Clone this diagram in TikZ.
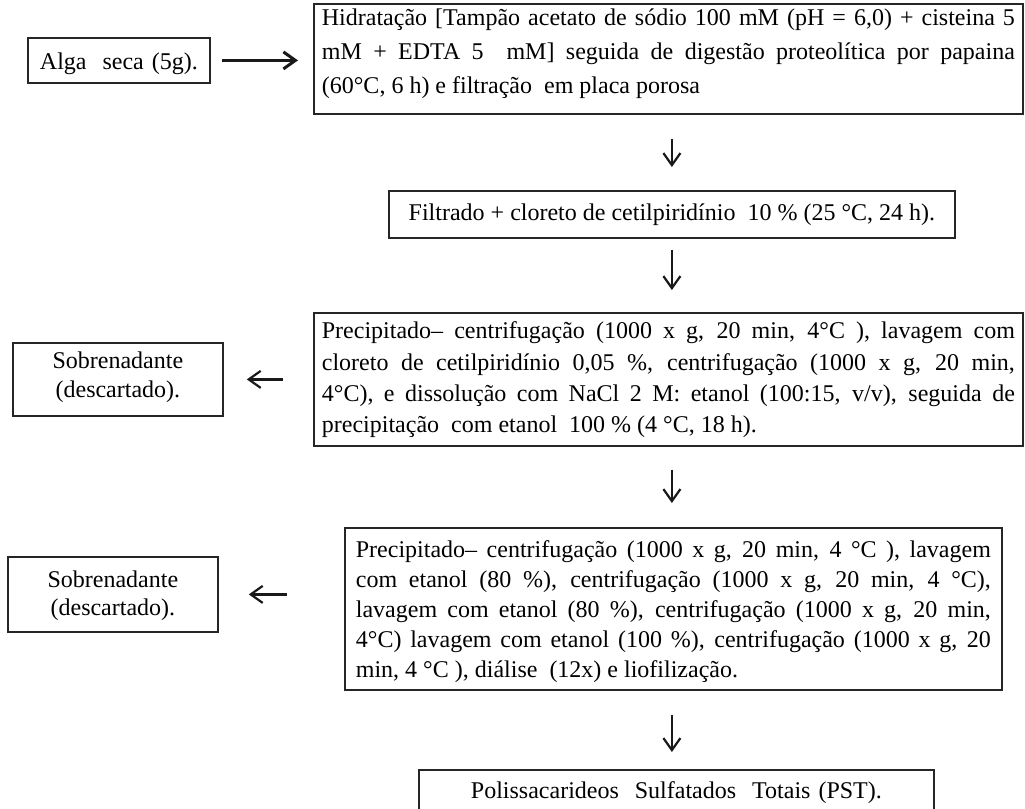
\documentclass[tikz,border=0pt]{standalone}
\usepackage{fontspec}
\setmainfont{Liberation Serif}
\usetikzlibrary{arrows.meta,positioning}

% struts that fix the gap above the first and below the last line
\newcommand{\boxtop}[1]{\noindent\rule{0pt}{#1}}
\newcommand{\boxbot}[1]{\rule[-#1]{0pt}{#1}}

\begin{document}
\begin{tikzpicture}[
    x=0.5pt, y=-0.5pt,
    box/.style={draw=black!85, line width=0.9pt, inner ysep=0pt, anchor=north west, font=\fontsize{12pt}{17pt}\selectfont},
    wide/.style={box, align=justify, inner xsep=4pt, text width=346.5pt},
    side/.style={box, align=center, inner xsep=0pt, text width=105pt},
    arrow/.style={-{Straight Barb[length=6pt,width=8.5pt]}, line width=1.1pt, black!90}
  ]
    \useasboundingbox (0,0) rectangle (1025,809);
    \clip (0,0) rectangle (1025,809);
    \node[box, align=center, inner xsep=0pt, text width=91pt] (alga) at (27,37) {\boxtop{16pt}Alga\ \ seca (5g).\boxbot{6.5pt}};
    \node[wide] (hidr) at (313,3) {\boxtop{11pt}Hidratação [Tampão acetato de sódio 100 mM (pH = 6,0) + cisteina 5\linebreak mM + EDTA 5\ \ mM] seguida de digestão proteolítica por papaina\linebreak (60°C, 6 h) e filtração\ \ em placa porosa\boxbot{10pt}};
    \node[box, inner xsep=0pt, minimum width=283pt] (filt) at (388,190) {\boxtop{15pt}Filtrado + cloreto de cetilpiridínio\ \ 10 \% (25 °C, 24 h).\boxbot{8.5pt}};
    \node[wide, font=\fontsize{12pt}{15.65pt}\selectfont] (prec1) at (313,312) {\boxtop{13pt}Precipitado– centrifugação (1000 x g, 20 min, 4°C ), lavagem com\linebreak cloreto de cetilpiridínio 0,05 \%, centrifugação (1000 x g, 20 min,\linebreak 4°C), e dissolução com NaCl 2 M: etanol (100:15, v/v), seguida de\linebreak precipitação\ \ com etanol\ \ 100 \% (4 °C, 18 h).\boxbot{6.5pt}};
    \node[side, font=\fontsize{12pt}{14.5pt}\selectfont] (sob1) at (12,342) {\boxtop{13pt}Sobrenadante\\(descartado).\boxbot{9pt}};
    \node[box, align=justify, inner xsep=5.5pt, text width=317.5pt, font=\fontsize{12pt}{15pt}\selectfont] (prec2) at (344,527) {\boxtop{15pt}Precipitado– centrifugação (1000 x g, 20 min, 4 °C ), lavagem\linebreak com etanol (80 \%), centrifugação (1000 x g, 20 min, 4 °C),\linebreak lavagem com etanol (80 \%), centrifugação (1000 x g, 20 min,\linebreak 4°C) lavagem com etanol (100 \%), centrifugação (1000 x g, 20\linebreak min, 4 °C ), diálise\ \ (12x) e liofilização.\boxbot{6pt}};
    \node[side, font=\fontsize{12pt}{14pt}\selectfont] (sob2) at (7,556) {\boxtop{15.5pt}Sobrenadante\\(descartado).\boxbot{8pt}};
    \node[box, align=center, inner xsep=0pt, text width=257.5pt] (pst) at (418,769) {\boxtop{14.5pt}Polissacarideos\ \ Sulfatados\ \ Totais (PST).\boxbot{8.5pt}};
    \draw[arrow, line width=1.5pt, shorten <=5.5pt, shorten >=7.5pt] (alga.east) -- (alga.east -| hidr.west);
    \draw[arrow, shorten <=12pt, shorten >=11.5pt] (filt.north |- hidr.south) -- (filt.north);
    \draw[arrow, shorten <=5.5pt, shorten >=11pt] (filt.south) -- (filt.south |- prec1.north);
    \draw[arrow, shorten <=11.5pt, shorten >=12pt] (filt.south |- prec1.south) -- (filt.south |- prec2.north);
    \draw[arrow, shorten <=12pt, shorten >=8.5pt] (filt.south |- prec2.south) -- (filt.south |- pst.north);
    \draw[arrow, shorten <=15pt, shorten >=11.5pt] (sob1.east -| prec1.west) -- (sob1.east);
    \draw[arrow, shorten <=28.5pt, shorten >=15pt] (sob2.east -| prec2.west) -- (sob2.east);
  \end{tikzpicture}
\end{document}
